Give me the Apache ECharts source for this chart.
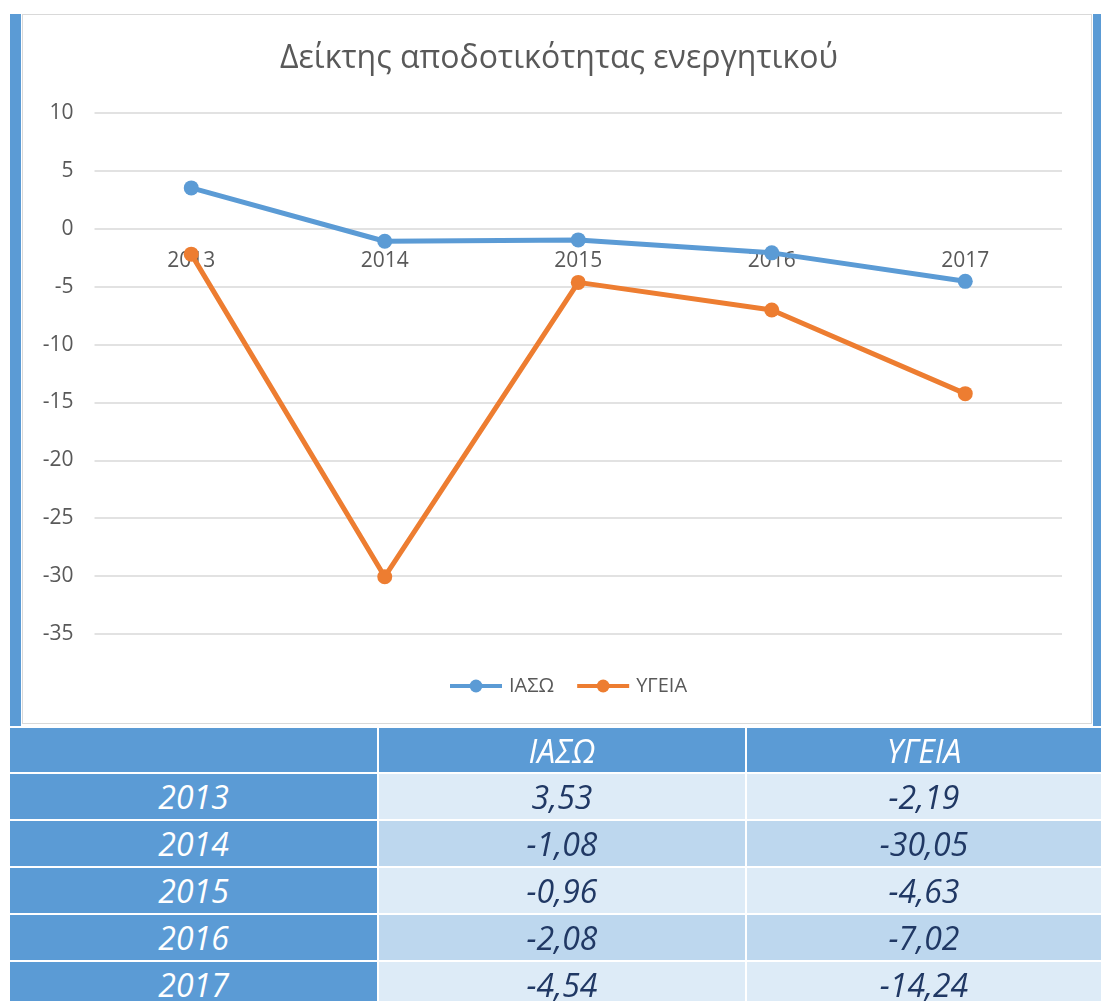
<!DOCTYPE html>
<html>
<head>
<meta charset="utf-8">
<script src="https://cdn.jsdelivr.net/npm/echarts@6/dist/echarts.min.js"></script>
<style>
html,body{margin:0;padding:0;background:#fff;width:1101px;height:1001px;overflow:hidden;font-family:"Open Sans","Noto Sans",sans-serif;}
#chart{position:absolute;left:0;top:0;width:1101px;height:1001px;}
.strip{position:absolute;background:#5B9BD5;}
.frame{position:absolute;border:1px solid #D9D9D9;box-sizing:border-box;}
.cell{position:absolute;display:flex;align-items:center;justify-content:center;font-style:italic;font-size:32px;}
</style>
</head>
<body>
<div class="strip" style="left:10px;top:14px;width:11px;height:712px;"></div>
<div class="strip" style="left:1093px;top:14px;width:8px;height:712px;"></div>
<div class="frame" style="left:22px;top:14px;width:1070px;height:710px;"></div>
<div id="chart"></div>
<div id="table"></div>
<script>
var categories = ["2013", "2014", "2015", "2016", "2017"];
var seriesNames = ["ΙΑΣΩ", "ΥΓΕΙΑ"];
var iasoValues = [3.53, -1.08, -0.96, -2.08, -4.54];
var ygeiaValues = [-2.19, -30.05, -4.63, -7.02, -14.24];
var yMin = -35, yMax = 10, yStep = 5;
var titleText = "Δείκτης αποδοτικότητας ενεργητικού";

var FONT = '"Open Sans","Noto Sans",sans-serif';
var chart = echarts.init(document.getElementById('chart'), null, {renderer: 'canvas'});
chart.setOption({
  backgroundColor: 'transparent',
  animation: false,
  title: {
    text: titleText, left: 554, textAlign: 'center', top: 38,
    textStyle: {color: '#595959', fontSize: 32, fontWeight: 'normal', fontFamily: FONT}
  },
  legend: {
    data: seriesNames, top: 671, left: 443, itemWidth: 52, itemHeight: 16, itemGap: 21,
    lineStyle: {width: 4},
    textStyle: {color: '#595959', fontSize: 20, fontFamily: FONT, padding: [0, 0, 0, 2]}
  },
  grid: {left: 94.5, right: 39, top: 113, bottom: 367, containLabel: false},
  xAxis: {
    type: 'category', data: categories, boundaryGap: true,
    axisLine: {show: true, onZero: true, lineStyle: {color: 'rgba(0,0,0,0)', width: 0}}, axisTick: {show: false},
    axisLabel: {color: '#595959', fontSize: 21, margin: 22, fontFamily: FONT},
    splitLine: {show: false}
  },
  yAxis: {
    type: 'value', min: yMin, max: yMax, interval: yStep,
    axisLine: {show: false}, axisTick: {show: false},
    axisLabel: {color: '#595959', fontSize: 21, margin: 21, fontFamily: FONT},
    splitLine: {lineStyle: {color: '#D9D9D9', width: 1.5}}
  },
  series: [
    {name: seriesNames[0], type: 'line', data: iasoValues, color: '#5B9BD5',
     lineStyle: {width: 5}, symbol: 'circle', symbolSize: 15, itemStyle: {color: '#5B9BD5'}, z: 3},
    {name: seriesNames[1], type: 'line', data: ygeiaValues, color: '#ED7D31',
     lineStyle: {width: 5}, symbol: 'circle', symbolSize: 15, itemStyle: {color: '#ED7D31'}, z: 2}
  ]
});
// place the category axis labels at the value-axis zero line (Excel style)
var yZero = chart.convertToPixel({yAxisIndex: 0}, 0);
var yBottom = chart.convertToPixel({yAxisIndex: 0}, yMin);
chart.setOption({xAxis: {offset: yZero - yBottom}});

// table
function fmt(v){ return v.toFixed(2).replace('.', ','); }
var tbl = document.getElementById('table');
var cols = [{l:10,w:367},{l:379,w:366},{l:747,w:354}];
function addCell(x, y, w, h, bg, color, txt){
  var d = document.createElement('div');
  d.className = 'cell';
  d.style.left = x + 'px'; d.style.top = y + 'px';
  d.style.width = w + 'px'; d.style.height = h + 'px';
  d.style.background = bg; d.style.color = color;
  d.textContent = txt;
  tbl.appendChild(d);
}
addCell(cols[0].l, 728, cols[0].w, 44, '#5B9BD5', '#fff', '');
addCell(cols[1].l, 728, cols[1].w, 44, '#5B9BD5', '#fff', seriesNames[0]);
addCell(cols[2].l, 728, cols[2].w, 44, '#5B9BD5', '#fff', seriesNames[1]);
for (var i = 0; i < categories.length; i++) {
  var rowTop = 774 + i * 47;
  var bg = (i % 2 === 0) ? '#DDEBF7' : '#BDD7EE';
  addCell(cols[0].l, rowTop, cols[0].w, 45, '#5B9BD5', '#fff', categories[i]);
  addCell(cols[1].l, rowTop, cols[1].w, 45, bg, '#203864', fmt(iasoValues[i]));
  addCell(cols[2].l, rowTop, cols[2].w, 45, bg, '#203864', fmt(ygeiaValues[i]));
}
</script>
</body>
</html>
